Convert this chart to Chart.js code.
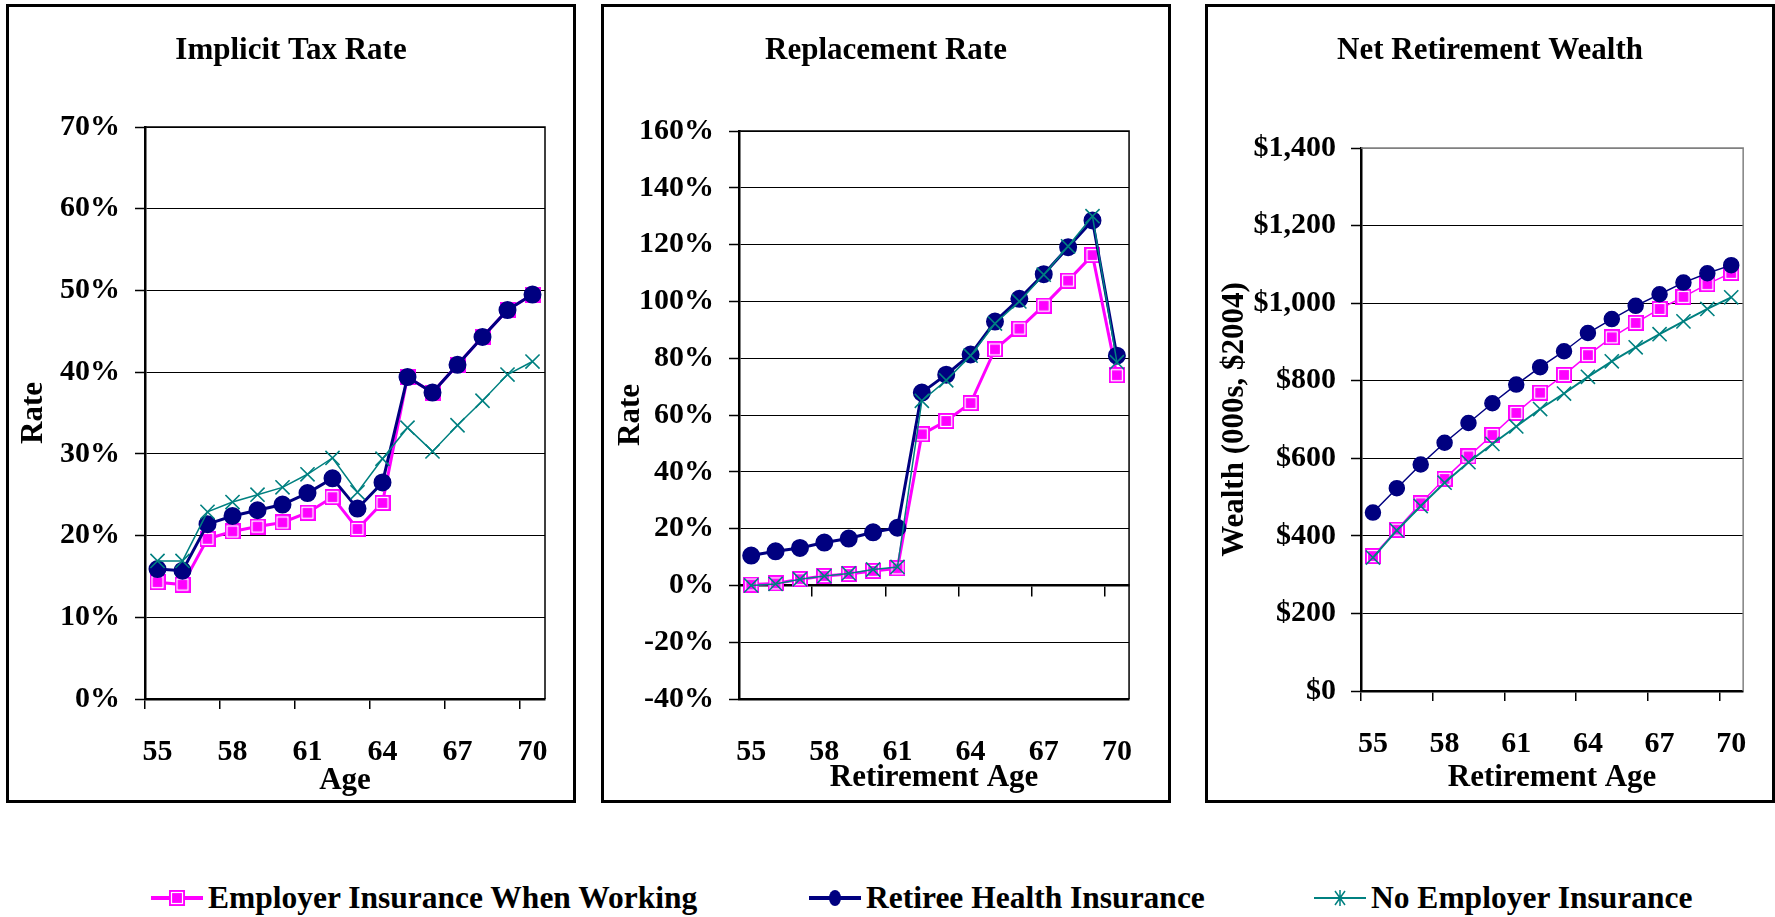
<!DOCTYPE html>
<html>
<head>
<meta charset="utf-8">
<script src="https://cdn.jsdelivr.net/npm/chart.js@4.4.1/dist/chart.umd.min.js"></script>
<style>
  body { margin: 0; background: #fff; width: 1775px; height: 917px; position: relative; overflow: hidden;
         font-family: "Liberation Serif", "Times New Roman", serif; }
  .panel { position: absolute; top: 4px; width: 570px; height: 799px; border: 3px solid #000; box-sizing: border-box; }
  .panel canvas { position: absolute; left: 0; top: 0; }
  .legend-item { position: absolute; top: 878px; height: 40px; display: flex; align-items: center;
                 font-weight: bold; font-size: 31.5px; color: #000; white-space: nowrap; }
  .legend-item span { margin-left: 5px; }
</style>
</head>
<body>
<div class="panel" style="left:6px"><canvas id="taxChart" width="564" height="793"></canvas></div>
<div class="panel" style="left:601px"><canvas id="replChart" width="564" height="793"></canvas></div>
<div class="panel" style="left:1205px"><canvas id="wealthChart" width="564" height="793"></canvas></div>

<div class="legend-item" style="left:151px"><canvas id="lgPink" width="52" height="20"></canvas><span>Employer Insurance When Working</span></div>
<div class="legend-item" style="left:809px"><canvas id="lgNavy" width="52" height="20"></canvas><span>Retiree Health Insurance</span></div>
<div class="legend-item" style="left:1314px"><canvas id="lgTeal" width="52" height="20"></canvas><span>No Employer Insurance</span></div>

<script>
// ages 55..70
const ages = [55, 56, 57, 58, 59, 60, 61, 62, 63, 64, 65, 66, 67, 68, 69, 70];

// Implicit Tax Rate, %
const taxEmployer = [14.3, 14.0, 19.6, 20.5, 21.1, 21.6, 22.8, 24.7, 20.8, 24.0, 39.4, 37.5, 40.9, 44.3, 47.6, 49.5];
const taxRetiree  = [15.9, 15.7, 21.4, 22.4, 23.1, 23.8, 25.2, 27.0, 23.3, 26.5, 39.4, 37.5, 40.9, 44.3, 47.6, 49.5];
const taxNone     = [16.9, 16.9, 22.9, 24.1, 25.0, 25.9, 27.5, 29.5, 25.3, 29.4, 33.2, 30.3, 33.5, 36.5, 39.7, 41.3];

// Replacement Rate, %
const replEmployer = [0.3, 0.7, 2.2, 3.3, 4.0, 5.1, 6.0, 53.2, 57.9, 64.2, 83.1, 90.4, 98.5, 107.3, 116.3, 74.0];
const replRetiree  = [10.5, 12.0, 13.2, 15.1, 16.5, 18.7, 20.3, 67.9, 74.2, 81.3, 92.9, 100.9, 109.6, 119.1, 128.5, 80.9];
const replNone     = [0.0, 0.5, 2.2, 3.3, 4.2, 5.6, 6.5, 65.0, 72.2, 80.9, 92.2, 100.0, 109.4, 119.4, 130.0, 78.6];

// Net Retirement Wealth, 000s $2004
const wealthEmployer = [348, 416, 484, 547, 605, 660, 717, 769, 815, 866, 912, 949, 985, 1016, 1049, 1078];
const wealthRetiree  = [460, 523, 584, 640, 691, 742, 790, 835, 876, 923, 959, 993, 1023, 1053, 1077, 1098];
const wealthNone     = [344, 414, 477, 537, 590, 637, 682, 727, 767, 810, 850, 886, 920, 953, 985, 1015];

const FONT = '"Liberation Serif", "Times New Roman", serif';
const PINK = '#FF00FF', NAVY = '#000080', TEAL = '#008080';
const W = 564, H = 793;

// квадратик с белой рамкой как в Excel
function pinkSquare() {
  const c = document.createElement('canvas');
  c.width = 16; c.height = 16;
  const g = c.getContext('2d');
  g.fillStyle = PINK;
  g.fillRect(0, 0, 16, 16);
  g.strokeStyle = '#fff';
  g.lineWidth = 1.2;
  g.strokeRect(2.5, 2.5, 11, 11);
  return c;
}
const pinkImg = pinkSquare();

const plotFrame = {
  id: 'plotFrame',
  beforeDatasetsDraw(chart, args, opts) {
    const a = chart.chartArea, g = chart.ctx;
    g.save();
    g.strokeStyle = opts.color;
    g.lineWidth = opts.width;
    g.beginPath();
    g.moveTo(a.left, a.top);
    g.lineTo(a.right, a.top);
    g.lineTo(a.right, a.bottom);
    g.stroke();
    g.restore();
  }
};

const tickFont = { family: FONT, size: 30, weight: 'bold', lineHeight: 1.2 };
const titleFont = { family: FONT, size: 31, weight: 'bold', lineHeight: 1.2 };
const everyThird = c => c.index % 3 === 0 ? '#000' : 'rgba(0,0,0,0)';

function buildChart(id, o) {
  const scales = {
    x: {
      type: 'category', axis: 'x', position: 'bottom', offset: true,
      grid: { offset: true, drawOnChartArea: false, drawTicks: !o.zeroAxis, tickLength: 10, lineWidth: 1.5, color: everyThird },
      border: { display: true, color: '#000', width: 2.5 },
      ticks: { autoSkip: false, maxRotation: 0, padding: o.zeroAxis ? 35 : 25, color: '#000', font: tickFont,
               callback: (v, i) => i % 3 === 0 ? String(ages[i]) : '' },
      title: { display: true, text: o.xTitle, color: '#000', font: titleFont, padding: { top: 0, bottom: o.xTitlePad } },
      afterFit: s => { s.height = H - o.plot.bottom; }
    },
    y: {
      type: 'linear', position: 'left', min: o.yMin, max: o.yMax,
      ticks: { stepSize: o.yStep, padding: 15, color: '#000', font: tickFont, callback: o.fmt },
      grid: { color: o.gridColor || '#000', lineWidth: 1, tickLength: 10, tickColor: '#000', tickWidth: 1.5 },
      border: { display: true, color: '#000', width: 2.5 },
      title: { display: true, text: o.yTitle, color: '#000', font: titleFont, padding: { top: o.yTitlePad, bottom: 0 } },
      afterFit: s => { s.width = o.plot.left; }
    },
    // пустая правая ось, чтобы заголовок оставался по центру панели
    yRight: {
      type: 'linear', position: 'right',
      ticks: { display: false }, grid: { display: false }, border: { display: false },
      afterFit: s => { s.width = W - o.plot.right; }
    }
  };
  if (o.zeroAxis) {
    // ось категорий проходит через 0%
    scales.x0 = {
      type: 'category', axis: 'x', position: { y: 0 }, offset: true,
      grid: { offset: true, drawOnChartArea: false, tickLength: 10, lineWidth: 1.5, color: everyThird },
      border: { display: true, color: '#000', width: 2.5 },
      ticks: { display: false }
    };
  }
  return new Chart(document.getElementById(id), {
    type: 'line',
    data: {
      labels: ages,
      datasets: [
        { label: 'Employer Insurance When Working', data: o.data[0], xAxisID: 'x', yAxisID: 'y', order: 3,
          borderColor: PINK, backgroundColor: PINK, borderWidth: o.lw[0], tension: 0, fill: false,
          pointStyle: pinkImg, pointRadius: 8 },
        { label: 'Retiree Health Insurance', data: o.data[1], xAxisID: 'x', yAxisID: 'y', order: 2,
          borderColor: NAVY, backgroundColor: NAVY, borderWidth: o.lw[1], tension: 0, fill: false,
          pointStyle: 'circle', pointRadius: 7.5, pointBackgroundColor: NAVY, pointBorderColor: NAVY },
        { label: 'No Employer Insurance', data: o.data[2], xAxisID: 'x', yAxisID: 'y', order: 1,
          borderColor: TEAL, backgroundColor: TEAL, borderWidth: o.lw[2], tension: 0, fill: false,
          pointStyle: 'crossRot', pointRadius: 10, pointBorderWidth: 1.6, pointBorderColor: TEAL }
      ]
    },
    options: {
      responsive: false,
      animation: false,
      events: [],
      layout: { padding: 0 },
      scales: scales,
      plugins: {
        legend: { display: false },
        tooltip: { enabled: false },
        title: { display: true, text: o.title, color: '#000', font: titleFont,
                 padding: { top: 25, bottom: o.plot.top - 25 - 37.2 } },
        plotFrame: { color: o.frameColor, width: 1.5 }
      }
    },
    plugins: [plotFrame]
  });
}

buildChart('taxChart', {
  title: 'Implicit Tax Rate', xTitle: 'Age', yTitle: 'Rate',
  data: [taxEmployer, taxRetiree, taxNone], lw: [3, 3, 1.5],
  yMin: 0, yMax: 70, yStep: 10, fmt: v => v + '%',
  plot: { left: 136, right: 548, top: 120, bottom: 692 },
  xTitlePad: 0, yTitlePad: 6, frameColor: '#000'
});

buildChart('replChart', {
  title: 'Replacement Rate', xTitle: 'Retirement Age', yTitle: 'Rate',
  data: [replEmployer, replRetiree, replNone], lw: [3, 3, 1.5],
  yMin: -40, yMax: 160, yStep: 20, fmt: v => v + '%',
  plot: { left: 135, right: 528, top: 124, bottom: 692 },
  xTitlePad: 3, yTitlePad: 8, frameColor: '#000', zeroAxis: true
});

buildChart('wealthChart', {
  title: 'Net Retirement Wealth', xTitle: 'Retirement Age', yTitle: 'Wealth (000s, $2004)',
  data: [wealthEmployer, wealthRetiree, wealthNone], lw: [1.5, 1.5, 2],
  yMin: 0, yMax: 1400, yStep: 200, fmt: v => '$' + v.toLocaleString('en-US'),
  gridColor: c => (c.tick && c.tick.value === 1400) ? '#808080' : '#000',
  plot: { left: 153, right: 539, top: 141, bottom: 684 },
  xTitlePad: 3, yTitlePad: 8, frameColor: '#808080'
});

// значки легенды
function legendIcon(id, color, lw, kind) {
  const g = document.getElementById(id).getContext('2d');
  g.strokeStyle = color;
  g.lineWidth = lw;
  g.beginPath(); g.moveTo(0, 10); g.lineTo(52, 10); g.stroke();
  if (kind === 'square') {
    g.drawImage(pinkImg, 18, 2);
  } else if (kind === 'circle') {
    g.fillStyle = color;
    g.beginPath(); g.ellipse(26, 10, 6, 8, 0, 0, Math.PI * 2); g.fill();
  } else {
    g.lineWidth = 1.5;
    g.beginPath();
    g.moveTo(21, 3); g.lineTo(31, 17);
    g.moveTo(31, 3); g.lineTo(21, 17);
    g.moveTo(26, 2); g.lineTo(26, 18);
    g.stroke();
  }
}
legendIcon('lgPink', PINK, 4, 'square');
legendIcon('lgNavy', NAVY, 4, 'circle');
legendIcon('lgTeal', TEAL, 2, 'star');
</script>
</body>
</html>
